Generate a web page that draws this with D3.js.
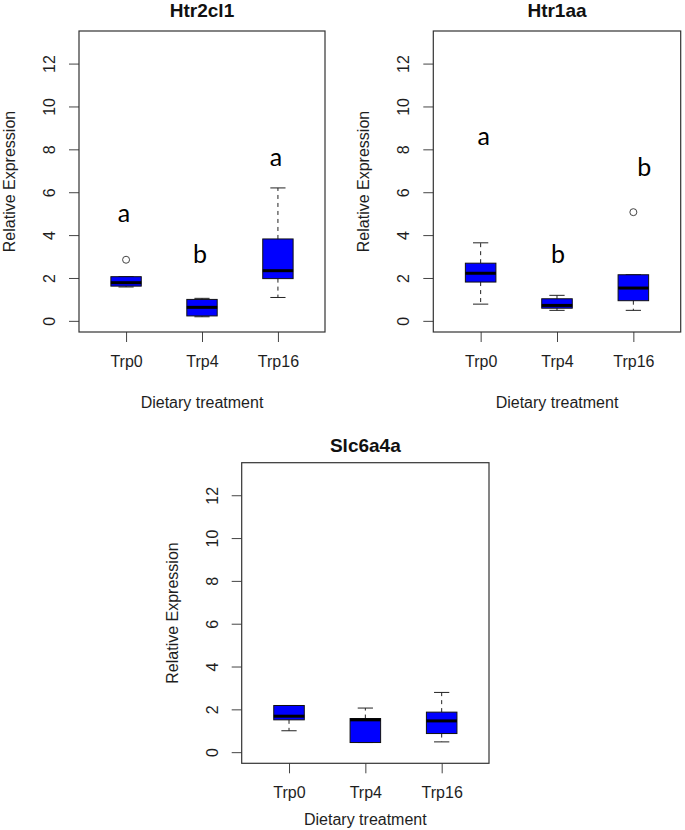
<!DOCTYPE html>
<html>
<head>
<meta charset="utf-8">
<script src="https://cdn.jsdelivr.net/npm/d3@7"></script>
<style>
  html, body { margin: 0; padding: 0; background: #fff; }
  svg { display: block; }
</style>
</head>
<body>
<svg id="chart" width="685" height="830"></svg>
<script>
// ---------------- DATA ----------------
const categories = ["Trp0", "Trp4", "Trp16"];
const genes = ["Htr2cl1", "Htr1aa", "Slc6a4a"];
const yTicks = [0, 2, 4, 6, 8, 10, 12];
const yLabel = "Relative Expression";
const xLabel = "Dietary treatment";

// Htr2cl1
const htr2cl1Low    = [1.58, 0.19, 1.09];
const htr2cl1Q1     = [1.62, 0.23, 1.97];
const htr2cl1Median = [1.78, 0.63, 2.34];
const htr2cl1Q3     = [2.06, 1.00, 3.82];
const htr2cl1High   = [2.06, 1.05, 6.20];
const htr2cl1Outliers = [[2.85], [], []];
const htr2cl1Letters = ["a", "b", "a"];
const htr2cl1LetterY = [4.59, 2.69, 7.21];

// Htr1aa
const htr1aaLow    = [0.78, 0.49, 0.49];
const htr1aaQ1     = [1.81, 0.59, 0.94];
const htr1aaMedian = [2.22, 0.72, 1.53];
const htr1aaQ3     = [2.69, 1.03, 2.15];
const htr1aaHigh   = [3.64, 1.19, 2.15];
const htr1aaOutliers = [[], [], [5.07]];
const htr1aaLetters = ["a", "b", "b"];
const htr1aaLetterY = [8.22, 2.71, 6.77];

// Slc6a4a
const slc6a4aLow    = [1.00, 0.45, 0.48];
const slc6a4aQ1     = [1.51, 0.45, 0.87];
const slc6a4aMedian = [1.68, 1.51, 1.46];
const slc6a4aQ3     = [2.18, 1.57, 1.87];
const slc6a4aHigh   = [2.18, 2.06, 2.79];
const slc6a4aOutliers = [[], [], []];
const slc6a4aLetters = [];
const slc6a4aLetterY = [];

// ---------------- LAYOUT ----------------
const panels = [
  { gene: genes[0], left: 79,    top: 31,    w: 246,   h: 301, titleGap: 14.3, xLabGap: 76,
    low: htr2cl1Low, q1: htr2cl1Q1, med: htr2cl1Median, q3: htr2cl1Q3, high: htr2cl1High,
    out: htr2cl1Outliers, letters: htr2cl1Letters, letterY: htr2cl1LetterY, letterDx: [-2, -2, -2] },
  { gene: genes[1], left: 433.3, top: 31,    w: 247.4, h: 301, titleGap: 14.3, xLabGap: 76,
    low: htr1aaLow, q1: htr1aaQ1, med: htr1aaMedian, q3: htr1aaQ3, high: htr1aaHigh,
    out: htr1aaOutliers, letters: htr1aaLetters, letterY: htr1aaLetterY, letterDx: [3, 1, 11] },
  { gene: genes[2], left: 241.7, top: 462.7, w: 247.3, h: 300.6, titleGap: 10.7, xLabGap: 62,
    low: slc6a4aLow, q1: slc6a4aQ1, med: slc6a4aMedian, q3: slc6a4aQ3, high: slc6a4aHigh,
    out: slc6a4aOutliers, letters: slc6a4aLetters, letterY: slc6a4aLetterY, letterDx: [0, 0, 0] }
];

const svg = d3.select("#chart");
svg.append("rect").attr("width", 685).attr("height", 830).attr("fill", "#fff");

const textFont = "'Liberation Sans', Arial, Helvetica, sans-serif";
const textColor = "#1e1e1e";

panels.forEach(p => {
  const g = svg.append("g").attr("transform", `translate(${p.left},${p.top})`);

  // R-style 4% extended limits
  const y = d3.scaleLinear().domain([-0.52, 13.52]).range([p.h, 0]);
  const x = d3.scaleLinear().domain([0.38, 3.62]).range([0, p.w]);
  const idx = categories.map((c, i) => i + 1);
  const boxW = x(1.4) - x(1.0); // boxwex 0.8 -> half is 0.4
  const capW = boxW / 2;

  // Y axis
  const yAxis = g.append("g")
    .call(d3.axisLeft(y).tickValues(yTicks).tickSize(10).tickPadding(0).tickFormat(d3.format("d")));
  yAxis.select(".domain").remove();
  yAxis.selectAll(".tick line").attr("stroke", "#444");
  yAxis.selectAll(".tick text")
    .attr("x", 0).attr("dy", 0).attr("y", 0)
    .attr("transform", "translate(-24,0) rotate(-90)")
    .attr("text-anchor", "middle")
    .attr("font-family", textFont).attr("font-size", 16).attr("fill", textColor);

  // X axis
  const xAxis = g.append("g").attr("transform", `translate(0,${p.h})`)
    .call(d3.axisBottom(x).tickValues(idx).tickSize(10).tickFormat(d => categories[d - 1]));
  xAxis.select(".domain").remove();
  xAxis.selectAll(".tick line").attr("stroke", "#444");
  xAxis.selectAll(".tick text")
    .attr("y", 35).attr("dy", 0)
    .attr("font-family", textFont).attr("font-size", 16).attr("fill", textColor);

  // Whiskers (dashed)
  categories.forEach((c, i) => {
    const cx = x(i + 1);
    g.append("line").attr("x1", cx).attr("x2", cx)
      .attr("y1", y(p.q3[i])).attr("y2", y(p.high[i]))
      .attr("stroke", "#222").attr("stroke-width", 1).attr("stroke-dasharray", "4,4");
    g.append("line").attr("x1", cx).attr("x2", cx)
      .attr("y1", y(p.q1[i])).attr("y2", y(p.low[i]))
      .attr("stroke", "#222").attr("stroke-width", 1).attr("stroke-dasharray", "4,4");
    // caps
    [p.high[i], p.low[i]].forEach(v => {
      g.append("line").attr("x1", cx - capW / 2).attr("x2", cx + capW / 2)
        .attr("y1", y(v)).attr("y2", y(v))
        .attr("stroke", "#222").attr("stroke-width", 1);
    });
    // box
    g.append("rect")
      .attr("x", cx - boxW / 2).attr("width", boxW)
      .attr("y", y(p.q3[i])).attr("height", y(p.q1[i]) - y(p.q3[i]))
      .attr("fill", "#0000ff").attr("stroke", "#111").attr("stroke-width", 1);
    // median
    g.append("line").attr("x1", cx - boxW / 2).attr("x2", cx + boxW / 2)
      .attr("y1", y(p.med[i])).attr("y2", y(p.med[i]))
      .attr("stroke", "#000").attr("stroke-width", 3);
    // outliers
    p.out[i].forEach(v => {
      g.append("circle").attr("cx", cx).attr("cy", y(v)).attr("r", 3.5)
        .attr("fill", "none").attr("stroke", "#444").attr("stroke-width", 1);
    });
  });

  // Significance letters
  p.letters.forEach((l, i) => {
    g.append("text").attr("x", x(i + 1) + p.letterDx[i]).attr("y", y(p.letterY[i]))
      .attr("text-anchor", "middle")
      .attr("font-family", "Lato, 'Open Sans', sans-serif").attr("font-size", 25)
      .attr("fill", "#000").text(l);
  });

  // Plot frame
  g.append("rect").attr("x", 0).attr("y", 0).attr("width", p.w).attr("height", p.h)
    .attr("fill", "none").attr("stroke", "#333").attr("stroke-width", 1.2);

  // Title
  g.append("text").attr("x", p.w / 2).attr("y", -p.titleGap)
    .attr("text-anchor", "middle")
    .attr("font-family", textFont).attr("font-weight", "bold").attr("font-size", 19)
    .attr("fill", "#111").text(p.gene);

  // Axis titles
  g.append("text").attr("x", p.w / 2).attr("y", p.h + p.xLabGap)
    .attr("text-anchor", "middle")
    .attr("font-family", textFont).attr("font-size", 16).attr("fill", textColor)
    .text(xLabel);
  g.append("text")
    .attr("transform", `translate(-64,${p.h / 2}) rotate(-90)`)
    .attr("text-anchor", "middle")
    .attr("font-family", textFont).attr("font-size", 16).attr("fill", textColor)
    .text(yLabel);
});
</script>
</body>
</html>
